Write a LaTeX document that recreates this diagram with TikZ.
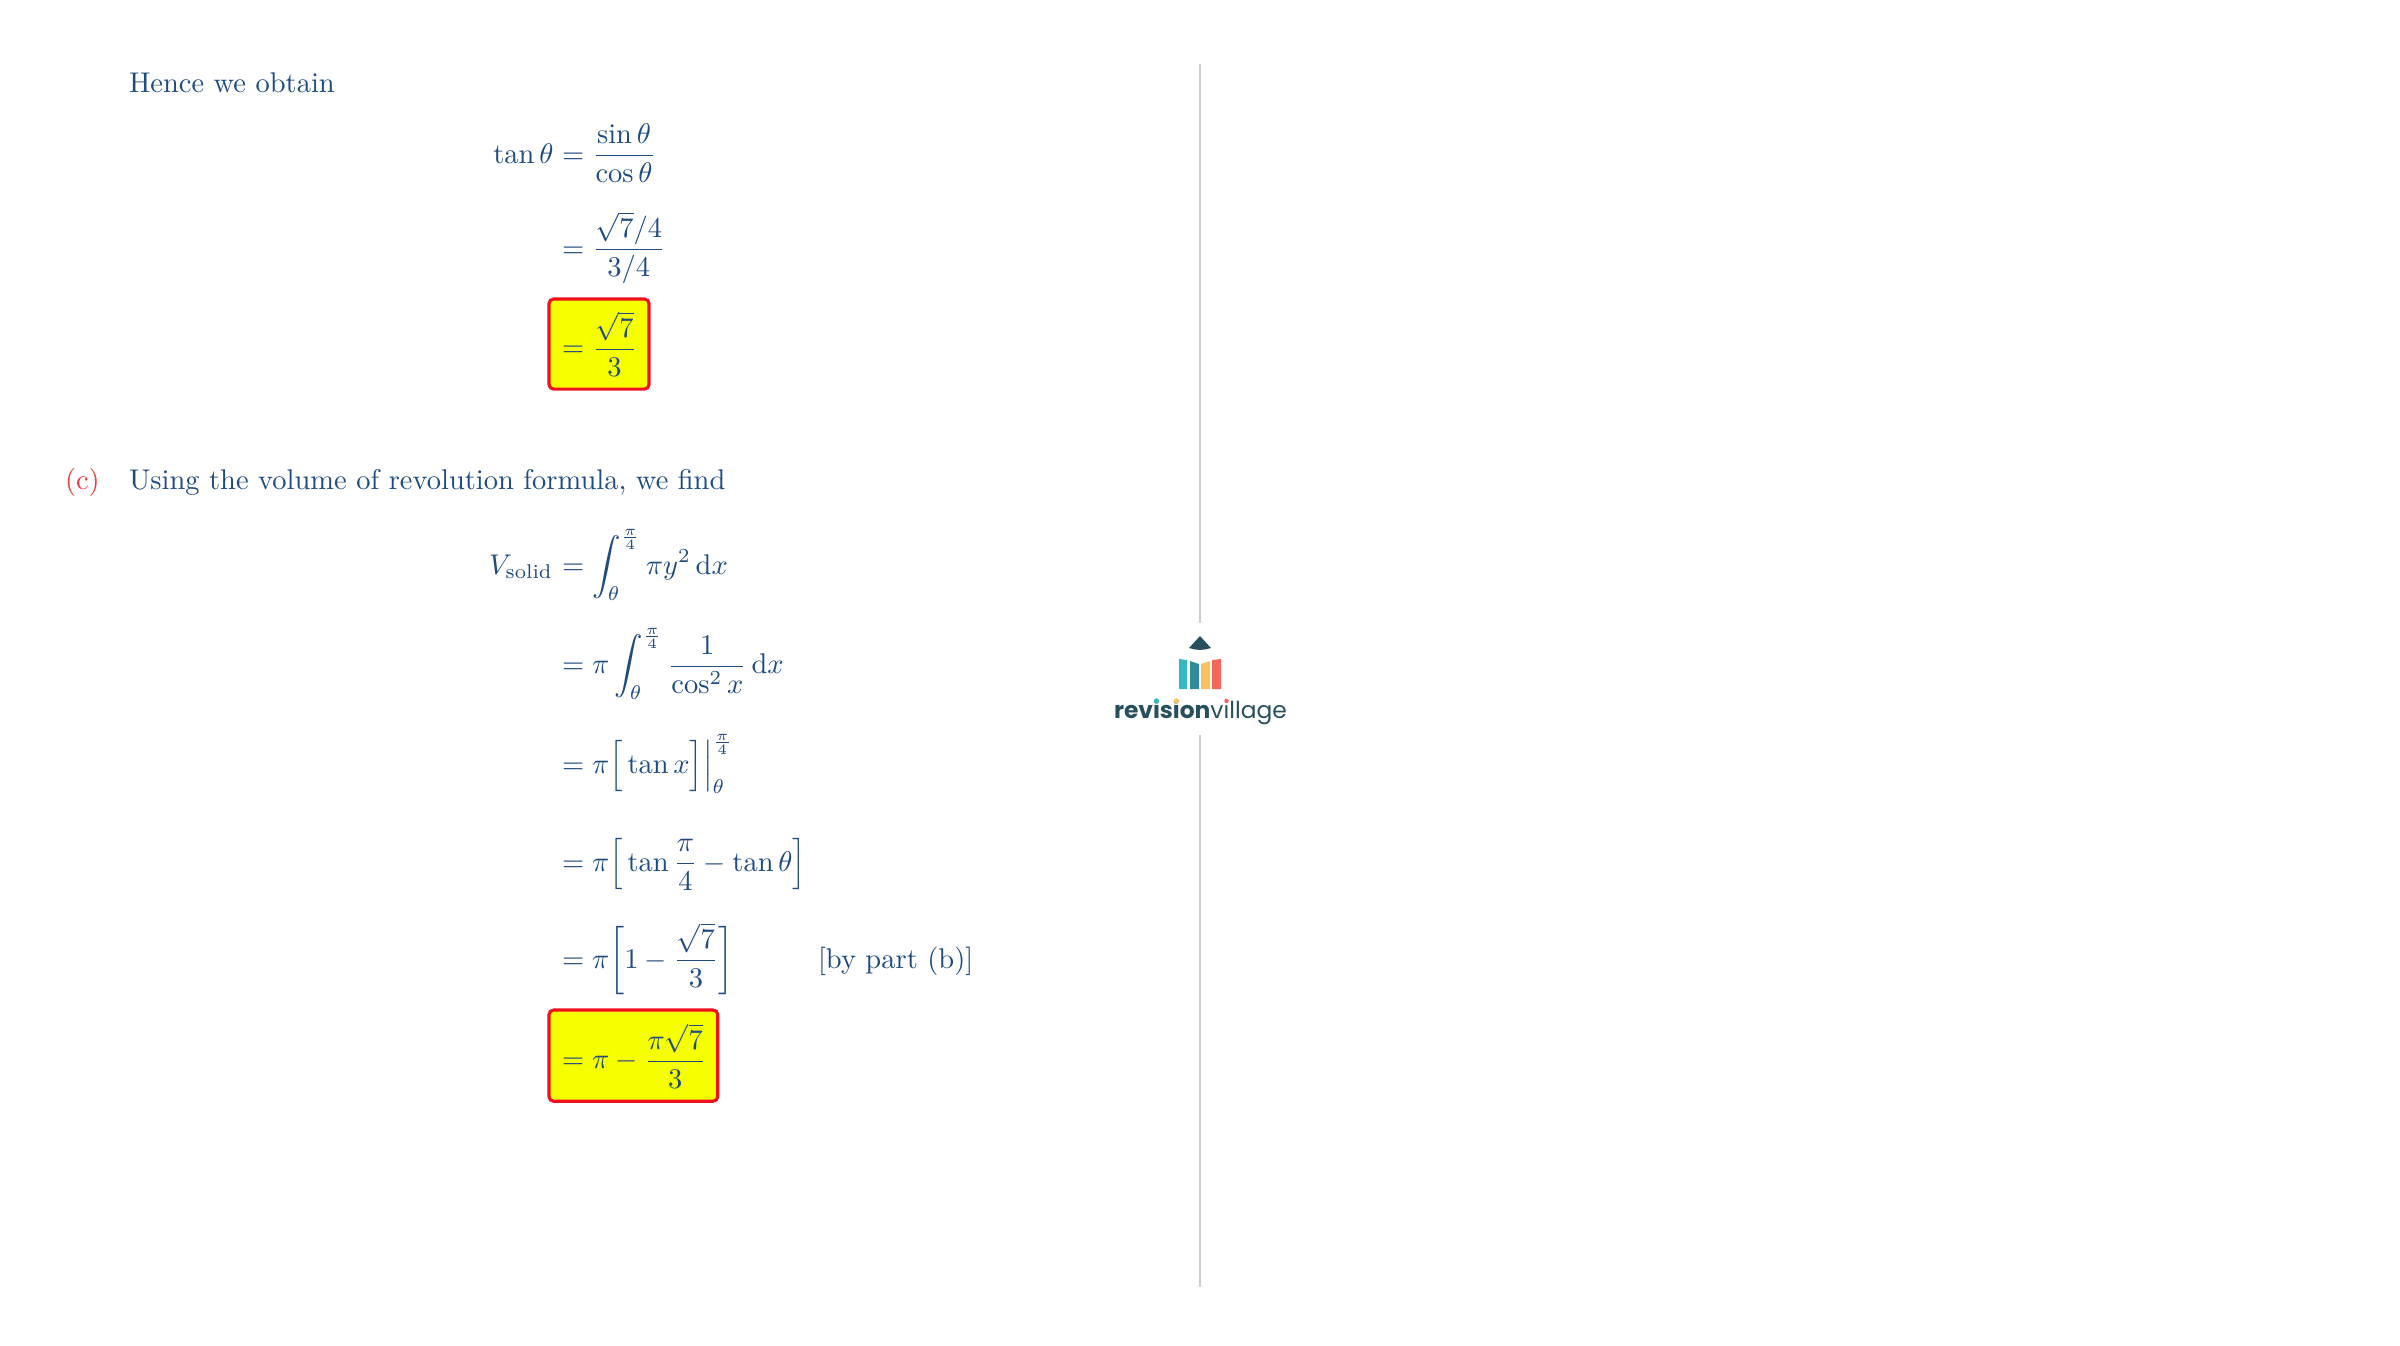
\documentclass[tikz,border=0pt]{standalone}
\usepackage{amsmath}
\usepackage{fontspec}
\newfontfamily\logofont{Poppins}
\definecolor{inkblue}{HTML}{1E4B80}
\definecolor{partred}{HTML}{F03A3A}
\definecolor{boxyellow}{HTML}{F5FF00}
\definecolor{boxred}{HTML}{F0101E}
\definecolor{rulegrey}{HTML}{CDCDCD}
\definecolor{logodark}{HTML}{27505F}
\definecolor{logoteal}{HTML}{2F8C97}
\definecolor{logocyan}{HTML}{35B7C4}
\definecolor{logoorange}{HTML}{FBBF60}
\definecolor{logored}{HTML}{F5675A}
\newlength{\logoA}\newlength{\logoB}\newlength{\logoC}\newlength{\logoI}\newlength{\logoJ}
\newcommand{\logosize}{\logofont\fontsize{8.2}{10}\selectfont}
\AtBeginDocument{%
  \settowidth{\logoA}{\logosize\textbf{rev}}%
  \settowidth{\logoB}{\logosize\textbf{revis}}%
  \settowidth{\logoC}{\logosize\textbf{revision}v}%
  \settowidth{\logoI}{\logosize\textbf{i}}%
  \settowidth{\logoJ}{\logosize i}%
}
\tikzset{
  txt/.style={inner sep=0pt,outer sep=0pt,text=inkblue,anchor=base west},
  lhs/.style={txt,anchor=base east},
  answerbox/.style={draw=boxred,fill=boxyellow,line width=1.1pt,rounded corners=1.6pt,inner sep=0pt,outer sep=0pt,anchor=north west},
  dividerrule/.style={draw=rulegrey,line width=0.65pt},
  logotext/.style={inner sep=0pt,outer sep=0pt,text=logodark,anchor=base west,font=\logosize},
}
\begin{document}
\begin{tikzpicture}[x=0.3509pt,y=-0.3509pt]
\useasboundingbox (0,0) rectangle (2400,1345);
% divider
\coordinate (ruleA) at (1200,64);
\coordinate (ruleB) at (1200,623);
\coordinate (ruleC) at (1200,735);
\coordinate (ruleD) at (1200,1287);
\draw[dividerrule] (ruleA) -- (ruleB);
\draw[dividerrule] (ruleC) -- (ruleD);
% answer boxes
\node[answerbox,minimum width=35.1pt,minimum height=31.6pt] (boxA) at (549,299) {};
\node[answerbox,minimum width=59.2pt,minimum height=32pt] (boxB) at (549,1010) {};
% text
\node[txt] (hence) at (129,92.5) {Hence we obtain};
\node[txt,text=partred] (partc) at (65,489) {(c)};
\node[txt] (using) at (129,489) {Using the volume of revolution formula, we find};
% first derivation
\node[lhs] (tanl) at (553.5,163) {$\tan\theta$};
\node[txt] (r1) at (562,163) {$\displaystyle =\frac{\sin\theta}{\cos\theta}$};
\node[txt] (r2) at (562,257) {$\displaystyle =\frac{\sqrt{7}/4}{3/4}$};
\node[txt] (r3) at (562,356.6) {$\displaystyle =\frac{\sqrt{7}}{3}$};
% second derivation
\node[lhs] (vl) at (553,574.5) {$V_{\mathrm{solid}}$};
\node[txt] (s1) at (562,574.5) {$\displaystyle =\int_{\theta}^{\frac{\pi}{4}}\pi y^{2}\,\mathrm{d}x$};
\node[txt] (s2) at (562,673.5) {$\displaystyle =\pi\int_{\theta}^{\frac{\pi}{4}}\frac{1}{\cos^{2}x}\,\mathrm{d}x$};
\node[txt] (s3) at (562,773.5) {$\displaystyle =\pi\Bigl[\,\tan x\Bigr]\Bigr|_{\theta}^{\frac{\pi}{4}}$};
\node[txt] (s4) at (562,871) {$\displaystyle =\pi\Bigl[\,\tan\frac{\pi}{4}-\tan\theta\Bigr]$};
\node[txt] (s5) at (562,968) {$\displaystyle =\pi\biggl[1-\frac{\sqrt{7}}{3}\biggr]$};
\node[txt] (s6) at (562,1068.6) {$\displaystyle =\pi-\frac{\pi\sqrt{7}}{3}$};
\node[txt] (bypart) at (818,968) {[by part (b)]};
% logo
\fill[logodark] (1189,648) -- (1200,636) -- (1211,648) .. controls (1204,650.5) and (1196,650.5) .. (1189,648) -- cycle;
\fill[logocyan] (1179,659) -- (1187,660) -- (1187,689) -- (1179,689) -- cycle;
\fill[logoteal] (1190,661) -- (1199,664) -- (1199,689) -- (1190,689) -- cycle;
\fill[logoorange] (1201,664) -- (1210,661) -- (1210,689) -- (1201,689) -- cycle;
\fill[logored] (1212,660) -- (1221,659) -- (1221,689) -- (1212,689) -- cycle;
\node[logotext] (logo) at (1114,718) {\textbf{revision}village};
\fill[logocyan] ([xshift=\logoA+0.5\logoI,yshift=6pt]logo.base west) circle (2.6);
\fill[logoorange] ([xshift=\logoB+0.5\logoI,yshift=6pt]logo.base west) circle (2.6);
\fill[logored] ([xshift=\logoC+0.5\logoJ,yshift=6pt]logo.base west) circle (2.2);
\end{tikzpicture}
\end{document}
